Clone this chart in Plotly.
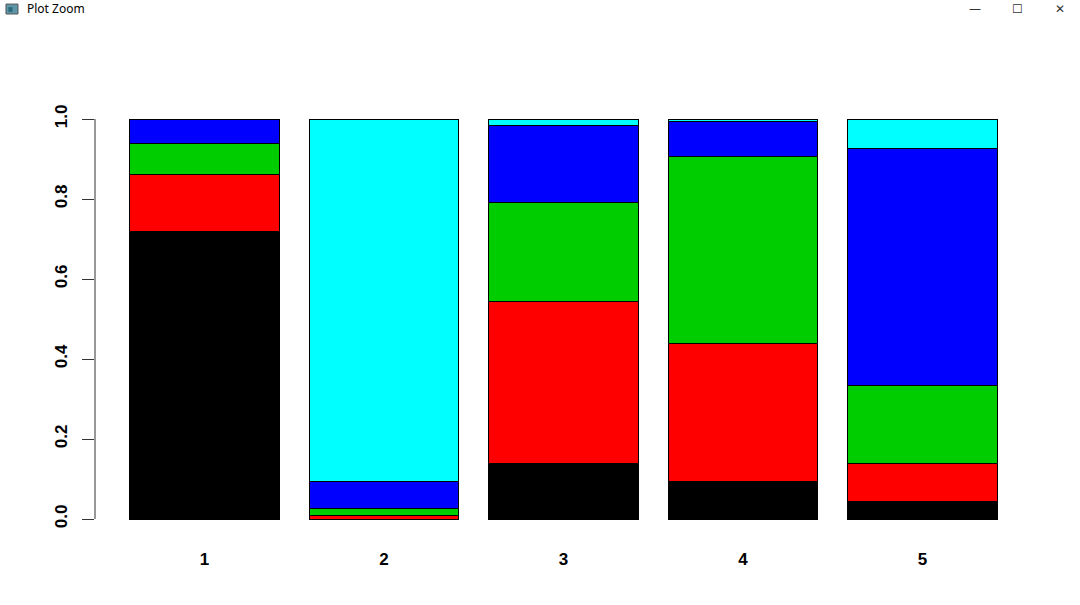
import plotly.graph_objects as go

categories = ["1", "2", "3", "4", "5"]
series_names = ["A", "B", "C", "D", "E"]
black_vals = [0.720, 0.000, 0.140, 0.093, 0.045]
red_vals = [0.142, 0.010, 0.405, 0.347, 0.093]
green_vals = [0.077, 0.017, 0.246, 0.466, 0.195]
blue_vals = [0.061, 0.068, 0.192, 0.089, 0.594]
cyan_vals = [0.000, 0.905, 0.017, 0.005, 0.073]
colors = ["#000000", "#FF0000", "#00CD00", "#0000FF", "#00FFFF"]
y_ticks = [0.0, 0.2, 0.4, 0.6, 0.8, 1.0]
y_tick_labels = ["0.0", "0.2", "0.4", "0.6", "0.8", "1.0"]

fig = go.Figure()
for name, vals, col in zip(series_names,
                           [black_vals, red_vals, green_vals, blue_vals, cyan_vals],
                           colors):
    fig.add_trace(go.Bar(x=categories, y=vals, name=name,
                         marker=dict(color=col, line=dict(color="#000000", width=1))))

font_family = "Liberation Sans, Arial, sans-serif"
fig.update_layout(
    barmode="stack",
    bargap=0.1667,
    width=1080, height=605,
    margin=dict(l=95, r=48, t=103, b=70, autoexpand=False),
    plot_bgcolor="white", paper_bgcolor="white",
    showlegend=False,
    xaxis=dict(type="category", range=[-0.61, 4.61], showline=False, ticks="",
               showgrid=False, zeroline=False, automargin=False,
               tickfont=dict(family=font_family, size=17, color="#000000", weight="bold"),
               ticklabelstandoff=12),
    yaxis=dict(range=[-0.04, 1.04], tickvals=y_ticks, ticktext=y_tick_labels,
               ticks="outside", ticklen=12, tickcolor="#333333", tickwidth=1,
               showline=False, showgrid=False, zeroline=False, tickangle=-90,
               automargin=False,
               tickfont=dict(family=font_family, size=17, color="#000000", weight="bold"),
               ticklabelstandoff=8),
)
# axis line spanning 0..1 as in R
fig.add_shape(type="line", xref="paper", yref="y", x0=0, x1=0, y0=0, y1=1,
              line=dict(color="#333333", width=1))

# window title bar
fig.add_shape(type="rect", xref="paper", yref="paper", x0=-0.095, x1=-0.0822,
              y0=1.206, y1=1.229, line=dict(color="#555555", width=1),
              fillcolor="#5f95a8")
fig.add_shape(type="rect", xref="paper", yref="paper", x0=-0.0925, x1=-0.0880,
              y0=1.211, y1=1.222, line=dict(width=0), fillcolor="#2a6a7a")
fig.add_annotation(text="Plot Zoom", xref="paper", yref="paper", x=-0.0747, y=1.2176,
                   xanchor="left", yanchor="middle", showarrow=False,
                   font=dict(family="Segoe UI, Noto Sans, sans-serif", size=12, color="#000000"))
for xp, sym in [(0.939, "—"), (0.984, "☐"), (1.030, "✕")]:
    fig.add_annotation(text=sym, xref="paper", yref="paper", x=xp, y=1.2176,
                       xanchor="center", yanchor="middle", showarrow=False,
                       font=dict(family="DejaVu Sans, sans-serif", size=12, color="#333333"))

fig.write_html("out.html", config={"displayModeBar": False},
               post_script="document.body.style.margin='0';document.body.style.overflow='hidden';")
